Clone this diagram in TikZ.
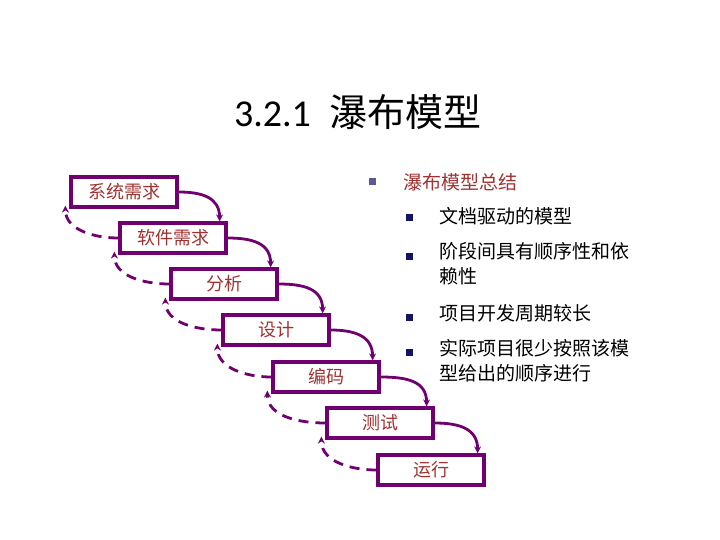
\documentclass[tikz,border=0pt]{standalone}
\usepackage{fontspec}
\setmainfont{Carlito}
\newfontfamily\cjk{Noto Sans CJK SC}
\usetikzlibrary{arrows.meta}
\definecolor{pur}{RGB}{112,0,112}
\definecolor{txr}{RGB}{160,50,50}
\definecolor{bul}{RGB}{20,20,100}
\begin{document}
\begin{tikzpicture}[x=1pt,y=-1pt,
 stage/.style={draw=pur,line width=3.2pt,fill=white,minimum width=106pt,minimum height=30pt,inner sep=0pt,text=txr,font=\cjk\fontsize{18}{20}\selectfont},
 fwd/.style={draw=pur,line width=2.8pt,-{Stealth[length=7pt,width=7pt]}},
 back/.style={draw=pur,line width=2.8pt,dash pattern=on 10pt off 7pt,-{Stealth[length=7pt,width=7pt]}},
 bsq/.style={fill=bul,minimum size=7pt,inner sep=0pt},
 btxt/.style={anchor=west,align=left,font=\cjk\fontsize{19}{25}\selectfont}]
\useasboundingbox (0,0) rectangle (720,540);
\node[font=\fontsize{38}{44}\selectfont] (title) at (358,112) {3.2.1\enspace{\cjk 瀑布模型}};
\node[stage] (s1) at (124,192) {系统需求};
\node[stage] (s2) at (173,238) {软件需求};
\node[stage] (s3) at (224,284) {分析};
\node[stage] (s4) at (276,330) {设计};
\node[stage] (s5) at (326,377) {编码};
\node[stage] (s6) at (380,423) {测试};
\node[stage] (s7) at (431,470) {运行};
\foreach \a/\b in {s1/s2,s2/s3,s3/s4,s4/s5,s5/s6,s6/s7}{
  \draw[fwd] (\a.east) to[out=0,in=90,looseness=1.2] ([xshift=-8pt]\b.north east);
  \draw[back] (\b.west) to[out=180,in=270] ([xshift=-4pt,yshift=3pt]\a.south west);
}
\node[bsq,fill=bul!70] (b0) at (372,182) {};
\node[btxt,text=txr] (t0) at (400,182) {瀑布模型总结};
\node[bsq] (b1) at (409,218) {};
\node[btxt] (t1) at (436,216) {文档驱动的模型};
\node[bsq] (b2) at (409,256) {};
\node[btxt] (t2) at (436,264) {阶段间具有顺序性和依\\赖性};
\node[bsq] (b3) at (409,317) {};
\node[btxt] (t3) at (436,313) {项目开发周期较长};
\node[bsq] (b4) at (409,352) {};
\node[btxt] (t4) at (436,361) {实际项目很少按照该模\\型给出的顺序进行};
\end{tikzpicture}
\end{document}
